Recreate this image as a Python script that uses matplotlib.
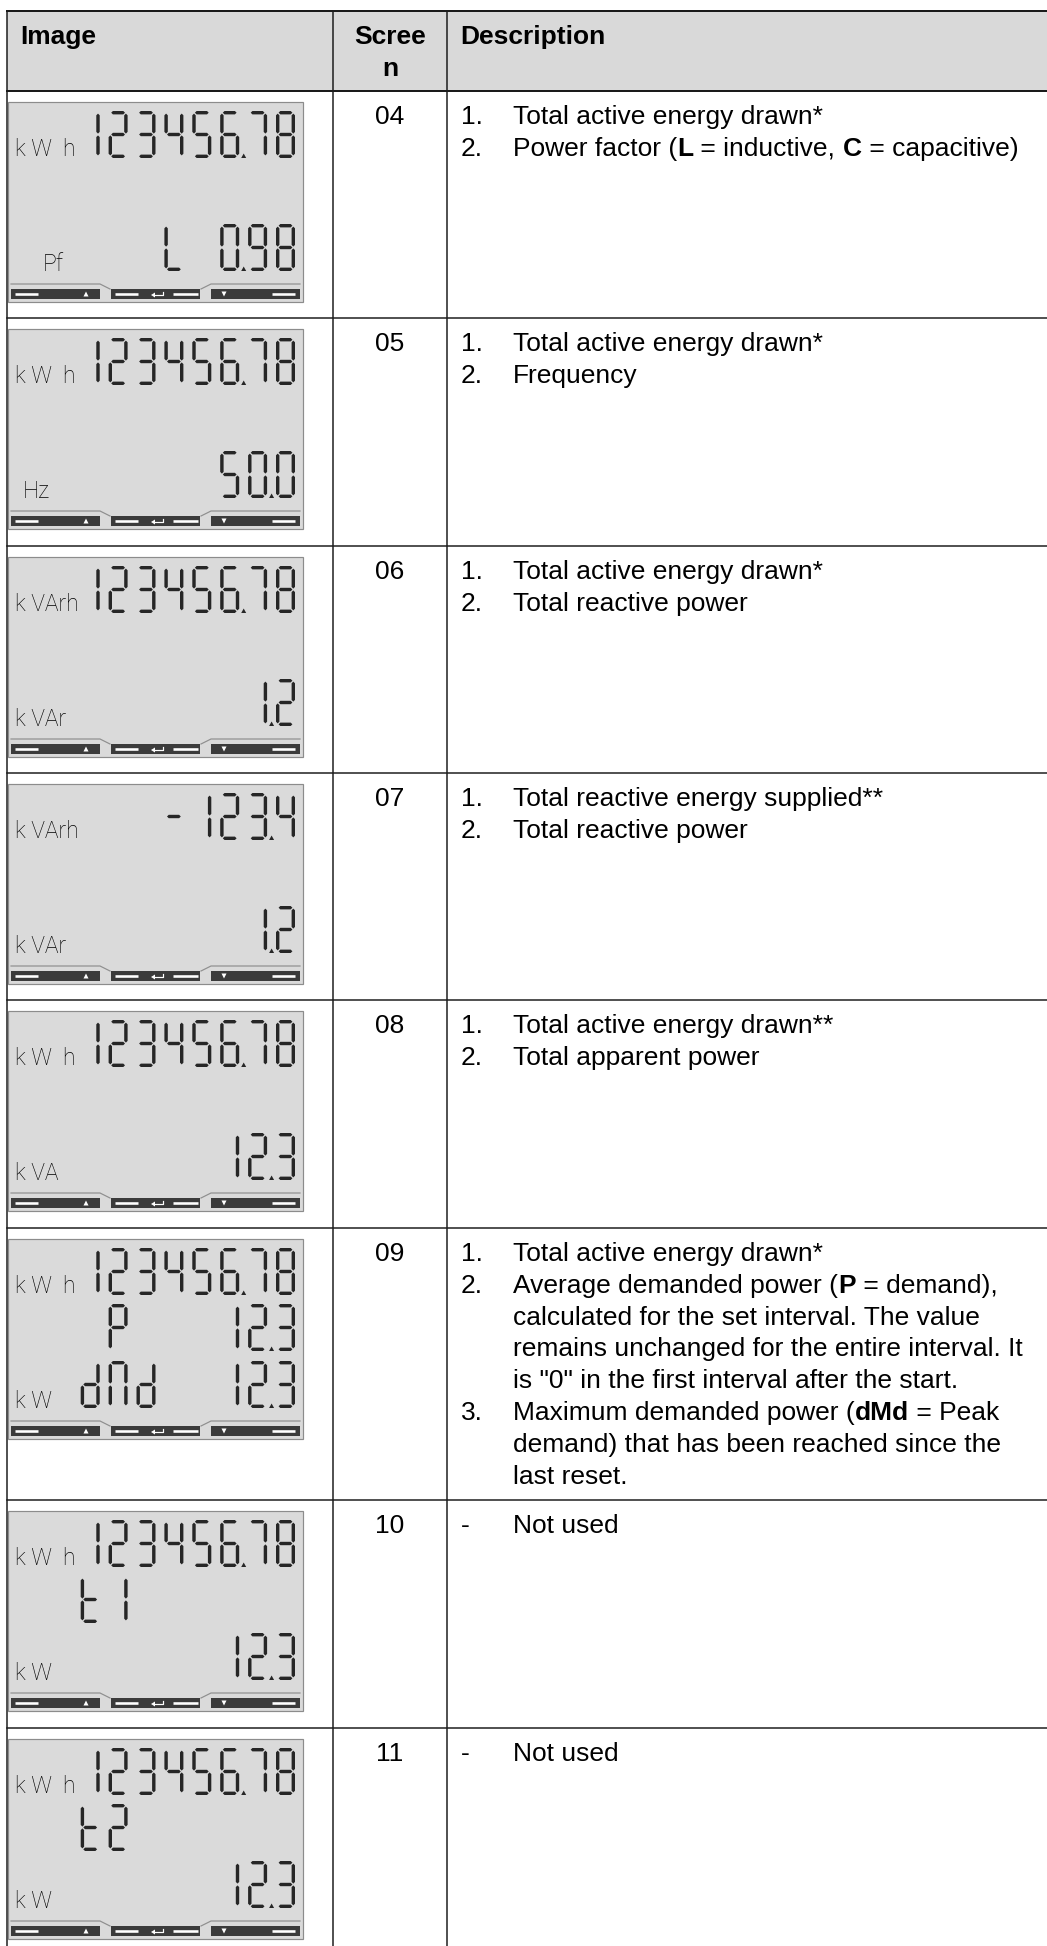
import re
import matplotlib
matplotlib.use("Agg")
import matplotlib.pyplot as plt
from matplotlib.patches import Polygon, Rectangle

plt.rcParams['font.family'] = ['Liberation Sans', 'DejaVu Sans']

#--- table content ---#
header = ["Image", "Scree\nn", "Description"]
screens = ["04", "05", "06", "07", "08", "09", "10", "11"]

# description lines: "number|text", bold parts between < >
descriptions = [
    ["1.|Total active energy drawn*",
     "2.|Power factor (<L> = inductive, <C> = capacitive)"],
    ["1.|Total active energy drawn*",
     "2.|Frequency"],
    ["1.|Total active energy drawn*",
     "2.|Total reactive power"],
    ["1.|Total reactive energy supplied**",
     "2.|Total reactive power"],
    ["1.|Total active energy drawn**",
     "2.|Total apparent power"],
    ["1.|Total active energy drawn*",
     "2.|Average demanded power (<P> = demand),",
     "|calculated for the set interval. The value",
     "|remains unchanged for the entire interval. It",
     '|is "0" in the first interval after the start.',
     "3.|Maximum demanded power (<dMd> = Peak",
     "|demand) that has been reached since the",
     "|last reset."],
    ["-|Not used"],
    ["-|Not used"],
]

#--- LCD content (8 digit columns per line, ' ' = blank) ---#
lcd_top_label = ["k W  h", "k W  h", "k VArh", "k VArh", "k W  h", "k W  h", "k W  h", "k W  h"]
lcd_bot_label = ["Pf", "Hz", "k VAr", "k VAr", "k VA", "k W", "k W", "k W"]
lcd_top = ["12345678", "12345678", "12345678", "   -1234", "12345678", "12345678", "12345678", "12345678"]
lcd_top_dot = [5, 5, 5, 6, 5, 5, 5, 5]
lcd_mid = ["", "", "", "", "", " P   123", "t1      ", "t2      "]
lcd_mid_dot = [None, None, None, None, None, 6, None, None]
lcd_bot = ["   L 098", "     500", "      12", "      12", "     123", "dMd  123", "     123", "     123"]
lcd_bot_dot = [5, 6, 6, 6, 6, 6, 6, 6]

SEGMENTS = {'0': 'abcdef', '1': 'bc', '2': 'abdeg', '3': 'abcdg', '4': 'bcfg',
            '5': 'acdfg', '6': 'acdefg', '7': 'abc', '8': 'abcdefg', '9': 'abcdfg',
            '-': 'g', 'L': 'def', 'P': 'abefg', 'd': 'bcdeg', 'M': 'abcef', 't': 'defg'}

#--- layout (pixels) ---#
W, H = 1047, 1946
row_tops = [91, 318, 546, 773, 1000, 1228, 1500, 1728]
table_top = 11
x_left, x_col2, x_col3 = 7, 333, 447
FS = 19
LINE = 31.8
PX = 0.72   # px -> pt
SEG_COLOR = '#262626'

fig = plt.figure(figsize=(W / 100, H / 100), dpi=100)
ax = fig.add_axes([0, 0, 1, 1])
ax.set_xlim(0, W)
ax.set_ylim(H, 0)
ax.axis('off')
rend = fig.canvas.get_renderer()


def text_width(s, weight):
    t1 = ax.text(0, 0, 'l' + s + 'l', fontsize=FS, fontweight=weight)
    t2 = ax.text(0, 0, 'll', fontsize=FS, fontweight=weight)
    w = t1.get_window_extent(rend).width - t2.get_window_extent(rend).width
    t1.remove()
    t2.remove()
    return w


def rich_text(x, y, s):
    parts = re.split(r'[<>]', s)
    for i, p in enumerate(parts):
        if not p:
            continue
        wt = 'bold' if i % 2 else 'normal'
        ax.text(x, y, p, fontsize=FS, fontweight=wt, ha='left', va='baseline', color='black')
        x += text_width(p, wt)


def seg_poly(x0, y0, x1, y1, t):
    h = t / 2
    if y0 == y1:
        return [(x0, y0), (x0 + h, y0 - h), (x1 - h, y0 - h), (x1, y0), (x1 - h, y0 + h), (x0 + h, y0 + h)]
    return [(x0, y0), (x0 + h, y0 + h), (x0 + h, y1 - h), (x0, y1), (x0 - h, y1 - h), (x0 - h, y0 + h)]


def draw_char(ch, x, y, w=19, h=47, t=3.4, gap=0.9):
    if ch == ' ':
        return
    hx = t / 2
    xl, xr = x + hx, x + w - hx
    yt, ym, yb = y + hx, y + h / 2, y + h - hx
    segs = {
        'a': (xl + gap, yt, xr - gap, yt),
        'g': (xl + gap, ym, xr - gap, ym),
        'd': (xl + gap, yb, xr - gap, yb),
        'f': (xl, yt + gap, xl, ym - gap),
        'b': (xr, yt + gap, xr, ym - gap),
        'e': (xl, ym + gap, xl, yb - gap),
        'c': (xr, ym + gap, xr, yb - gap),
    }
    for s in SEGMENTS[ch]:
        ax.add_patch(Polygon(seg_poly(*segs[s], t), closed=True, fc=SEG_COLOR, ec='none'))


def draw_line(x0, y, chars, dot):
    pitch, cw = 27.9, 19
    for i, ch in enumerate(chars):
        draw_char(ch, x0 + 72.7 + i * pitch, y)
    if dot is not None:
        cx = x0 + 72.7 + dot * pitch + cw + 4.5
        yb = y + 47
        ax.add_patch(Polygon([(cx - 2.5, yb), (cx + 2.5, yb), (cx, yb - 4.5)], closed=True,
                             fc=SEG_COLOR, ec='none'))


def draw_lcd(x0, y0, k):
    ax.add_patch(Rectangle((x0, y0), 295, 200, fc='#dadada', ec='#8c8c8c', lw=1.2 * PX))
    # segment lines
    draw_line(x0, y0 + 9, lcd_top[k], lcd_top_dot[k])
    if lcd_mid[k]:
        draw_line(x0, y0 + 65, lcd_mid[k], lcd_mid_dot[k])
    draw_line(x0, y0 + 122, lcd_bot[k], lcd_bot_dot[k])
    # unit labels
    lab_kw = dict(fontsize=16.5, family=['Roboto', 'DejaVu Sans'], fontweight='light',
                  color='black', ha='left', va='baseline')
    ax.text(x0 + 7, y0 + 54, lcd_top_label[k], **lab_kw)
    bx = {'Pf': 35, 'Hz': 15}.get(lcd_bot_label[k], 7)
    ax.text(x0 + bx, y0 + 169, lcd_bot_label[k], **lab_kw)
    # frame line over the keys
    ax.plot([x0 + 3, x0 + 92, x0 + 102], [y0 + 182, y0 + 182, y0 + 187], color='#8f8f8f', lw=1.2 * PX)
    ax.plot([x0 + 193, x0 + 203, x0 + 292], [y0 + 187, y0 + 182, y0 + 182], color='#8f8f8f', lw=1.2 * PX)
    # keys
    for bx0, bx1 in [(3, 92), (103, 192), (203, 292)]:
        ax.add_patch(Rectangle((x0 + bx0, y0 + 187), bx1 - bx0, 10, fc='#3b3b3b', ec='none'))
    yk = y0 + 192
    for a, b in [(7, 30), (107, 130), (165, 190), (264, 287)]:
        ax.plot([x0 + a, x0 + b], [yk, yk], color='white', lw=2.6 * PX, solid_capstyle='butt')
    ax.add_patch(Polygon([(x0 + 75.5, yk + 2.5), (x0 + 80.5, yk + 2.5), (x0 + 78, yk - 2.5)], fc='white', ec='none'))
    ax.add_patch(Polygon([(x0 + 213.5, yk - 2.5), (x0 + 218.5, yk - 2.5), (x0 + 216, yk + 2.5)], fc='white', ec='none'))
    # return arrow
    ax.plot([x0 + 146, x0 + 155, x0 + 155], [yk + 1, yk + 1, yk - 2], color='white', lw=1.2 * PX)
    ax.add_patch(Polygon([(x0 + 143, yk + 1), (x0 + 147, yk - 1.5), (x0 + 147, yk + 3.5)], fc='white', ec='none'))


#--- header ---#
ax.add_patch(Rectangle((x_left, table_top), W - x_left, row_tops[0] - table_top, fc='#d9d9d9', ec='none'))
hb = table_top + 33
ax.text(20, hb, header[0], fontsize=FS, fontweight='bold', ha='left', va='baseline')
for j, line in enumerate(header[1].split('\n')):
    ax.text((x_col2 + x_col3) / 2, hb + j * LINE, line, fontsize=FS, fontweight='bold', ha='center', va='baseline')
ax.text(460, hb, header[2], fontsize=FS, fontweight='bold', ha='left', va='baseline')

#--- rows ---#
for k, top in enumerate(row_tops):
    draw_lcd(8, top + 11, k)
    base = top + 33
    ax.text((x_col2 + x_col3) / 2, base, screens[k], fontsize=FS, ha='center', va='baseline')
    for j, line in enumerate(descriptions[k]):
        num, txt = line.split('|', 1)
        y = base + j * LINE
        if num:
            ax.text(461, y, num, fontsize=FS, ha='left', va='baseline')
        rich_text(513, y, txt)

#--- grid lines ---#
lc = '#1a1a1a'
ax.plot([x_left, W], [table_top, table_top], color=lc, lw=2.0 * PX)
ax.plot([x_left, W], [row_tops[0], row_tops[0]], color=lc, lw=2.0 * PX)
for top in row_tops[1:]:
    ax.plot([x_left, W], [top, top], color=lc, lw=1.5 * PX)
for x in [x_left, x_col2, x_col3]:
    ax.plot([x, x], [table_top, H], color=lc, lw=1.5 * PX)

fig.savefig("out.png", dpi=100)
